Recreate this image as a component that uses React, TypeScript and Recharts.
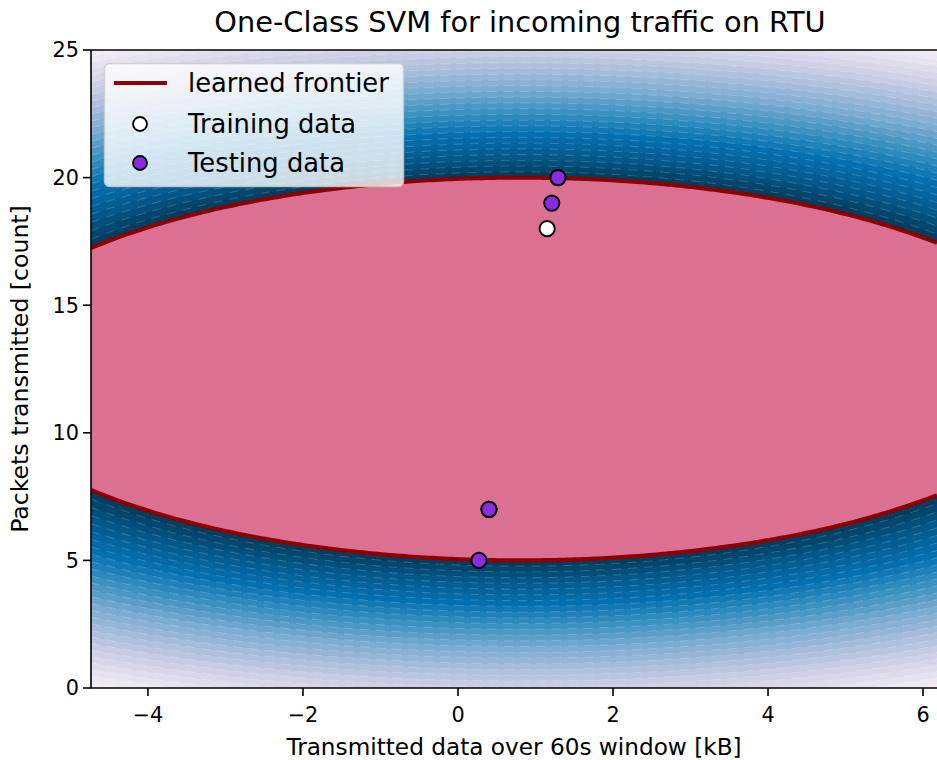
import React from 'react';
import { ComposedChart, Area, Scatter, XAxis, YAxis, Legend, Label, ReferenceLine } from 'recharts';

// ---- axes ----
const X_DOMAIN: [number, number] = [-4.735, 6.18];
const Y_DOMAIN: [number, number] = [0, 25];
const X_TICKS = [-4, -2, 0, 2, 4, 6];
const Y_TICKS = [0, 5, 10, 15, 20, 25];

// ---- observations ----
const TRAINING_X = [1.29, 0.4, 1.15];
const TRAINING_Y = [20, 7, 18];
const TESTING_X = [1.29, 1.21, 0.4, 0.27];
const TESTING_Y = [20, 19, 7, 5];

// ---- learned decision function (elliptical contours) ----
const FRONTIER_CENTER = { x: 0.805, y: 12.5 };
const FRONTIER_SEMI_AXES = { x: 7.148, y: 7.5 };
const CONTOUR_LEVELS = [
  1.0, 1.03, 1.06, 1.09, 1.12, 1.15, 1.18, 1.21, 1.24, 1.27, 1.3, 1.33, 1.36, 1.39, 1.42,
  1.45, 1.48, 1.51, 1.54, 1.57, 1.6, 1.63, 1.66, 1.69, 1.72, 1.75, 1.78, 1.81, 1.84, 1.87, 1.9, 2.0,
];
const LEVEL_SPAN = 0.9;
const PUBU = ['#fff7fb', '#ece7f2', '#d0d1e6', '#a6bddb', '#74a9cf', '#3690c0', '#0570b0', '#045a8d', '#023858'];

const LEGEND_LABELS = ['learned frontier', 'Training data', 'Testing data'];
const TITLE = 'One-Class SVM for incoming traffic on RTU';
const X_LABEL = 'Transmitted data over 60s window [kB]';
const Y_LABEL = 'Packets transmitted [count]';

const FONT = 'DejaVu Sans, sans-serif';
const FRONTIER_COLOR = '#8b0000';
const INSIDE_COLOR = '#db7093';
const TEST_COLOR = '#8a2be2';

function hexToRgb(h: string) {
  return [parseInt(h.slice(1, 3), 16), parseInt(h.slice(3, 5), 16), parseInt(h.slice(5, 7), 16)];
}
function pubu(t: number) {
  const c = Math.max(0, Math.min(1, t)) * (PUBU.length - 1);
  const i = Math.min(PUBU.length - 2, Math.floor(c));
  const f = c - i;
  const a = hexToRgb(PUBU[i]);
  const b = hexToRgb(PUBU[i + 1]);
  const m = a.map((v, k) => Math.round(v + (b[k] - v) * f));
  return `rgb(${m[0]},${m[1]},${m[2]})`;
}

// x positions at which the contour bands are traced
const SAMPLE_X: number[] = [];
for (let x = X_DOMAIN[0]; x <= X_DOMAIN[1] + 1e-9; x += 0.05) SAMPLE_X.push(x);
if (SAMPLE_X[SAMPLE_X.length - 1] < X_DOMAIN[1]) SAMPLE_X.push(X_DOMAIN[1]);

function band(x: number, r: number): [number, number] {
  const u = (x - FRONTIER_CENTER.x) / (FRONTIER_SEMI_AXES.x * r);
  const h = FRONTIER_SEMI_AXES.y * r * Math.sqrt(Math.max(0, 1 - u * u));
  return [FRONTIER_CENTER.y - h, FRONTIER_CENTER.y + h];
}

const contourData = SAMPLE_X.map((x) => {
  const row: Record<string, any> = { x };
  CONTOUR_LEVELS.forEach((r, i) => {
    row['l' + i] = band(x, r);
  });
  return row;
});

const trainingData = TRAINING_X.map((x, i) => ({ x, y: TRAINING_Y[i] }));
const testingData = TESTING_X.map((x, i) => ({ x, y: TESTING_Y[i] }));

const levelColor = (i: number) => {
  const r = CONTOUR_LEVELS[i];
  const prev = i > 0 ? CONTOUR_LEVELS[i - 1] : 1;
  const mid = (r + prev) / 2;
  return pubu(1 - (mid - 1) / LEVEL_SPAN);
};

const fmt = (v: number) => (v < 0 ? '\u2212' + Math.abs(v) : String(v));

const Dot = (fill: string) => (props: any) => (
  <circle cx={props.cx} cy={props.cy} r={7.6} fill={fill} stroke="#000" strokeWidth={1.9} />
);

const LegendBox = () => (
  <svg width={300} height={124} style={{ display: 'block', overflow: 'visible' }}>
    <rect x={0.5} y={0.5} width={299} height={123} rx={5} ry={5} fill="rgba(255,255,255,0.8)" stroke="rgba(204,204,204,0.8)" strokeWidth={1.5} />
    <line x1={10} x2={63} y1={20} y2={20} stroke={FRONTIER_COLOR} strokeWidth={4.2} />
    <circle cx={36} cy={61} r={7} fill="#fff" stroke="#000" strokeWidth={1.8} />
    <circle cx={36} cy={100} r={7} fill={TEST_COLOR} stroke="#000" strokeWidth={1.8} />
    {LEGEND_LABELS.map((t, i) => (
      <text key={t} x={84} y={[20, 61, 100][i]} dy="0.36em" fontSize={25.8} fontFamily={FONT} fill="#000">
        {t}
      </text>
    ))}
  </svg>
);

export default function App() {
  const order = CONTOUR_LEVELS.map((_, i) => i).filter((i) => i > 0).reverse();
  return (
    <div style={{ position: 'absolute', left: 0, top: 0, width: 937, height: 760, background: '#fff', fontFamily: FONT }}>
      <div
        style={{
          position: 'absolute',
          left: 520,
          top: 8,
          transform: 'translateX(-50%)',
          whiteSpace: 'nowrap',
          fontSize: 28.8,
          lineHeight: '29px',
          color: '#000',
        }}
      >
        {TITLE}
      </div>
      <ComposedChart
        width={937}
        height={760}
        data={contourData}
        margin={{ top: 50, right: 0, bottom: 0, left: 0 }}
        style={{ fontFamily: FONT }}
      >
        <XAxis
          type="number"
          dataKey="x"
          domain={X_DOMAIN}
          allowDataOverflow
          ticks={X_TICKS}
          tickFormatter={fmt}
          interval={0}
          height={72}
          tickSize={8}
          tickMargin={11}
          axisLine={{ stroke: '#000', strokeWidth: 1.6 }}
          tickLine={{ stroke: '#000', strokeWidth: 1.6 }}
          tick={{ fill: '#000', fontSize: 20.8, fontFamily: FONT }}
        >
          <Label value={X_LABEL} position="insideBottom" offset={5} style={{ fill: '#000', fontSize: 23.2, fontFamily: FONT }} />
        </XAxis>
        <YAxis
          type="number"
          domain={Y_DOMAIN}
          allowDataOverflow
          ticks={Y_TICKS}
          interval={0}
          width={91}
          tickSize={8}
          tickMargin={4}
          axisLine={{ stroke: '#000', strokeWidth: 1.6 }}
          tickLine={{ stroke: '#000', strokeWidth: 1.6 }}
          tick={{ fill: '#000', fontSize: 20.8, fontFamily: FONT }}
        >
          <Label
            value={Y_LABEL}
            angle={-90}
            position="insideLeft"
            offset={20}
            style={{ fill: '#000', fontSize: 23.6, fontFamily: FONT, textAnchor: 'middle' }}
          />
        </YAxis>
        {order.map((i) => (
          <Area
            key={'l' + i}
            dataKey={'l' + i}
            type="linear"
            fill={levelColor(i)}
            fillOpacity={1}
            stroke="#ffffff"
            strokeOpacity={0.18}
            strokeWidth={1}
            strokeDasharray="9 7"
            dot={false}
            activeDot={false}
            isAnimationActive={false}
          />
        ))}
        <Area
          dataKey="l0"
          type="linear"
          fill={INSIDE_COLOR}
          fillOpacity={1}
          stroke={FRONTIER_COLOR}
          strokeWidth={4.2}
          dot={false}
          activeDot={false}
          isAnimationActive={false}
        />
        <ReferenceLine y={25} stroke="#000" strokeWidth={1.6} />
        <Scatter data={trainingData} dataKey="y" shape={Dot('#ffffff')} isAnimationActive={false} />
        <Scatter data={testingData} dataKey="y" shape={Dot(TEST_COLOR)} isAnimationActive={false} />
        <Legend
          layout="vertical"
          align="center"
          verticalAlign="middle"
          content={() => <LegendBox />}
          wrapperStyle={{ left: 104, top: 63, width: 300, height: 124 }}
        />
      </ComposedChart>
    </div>
  );
}
